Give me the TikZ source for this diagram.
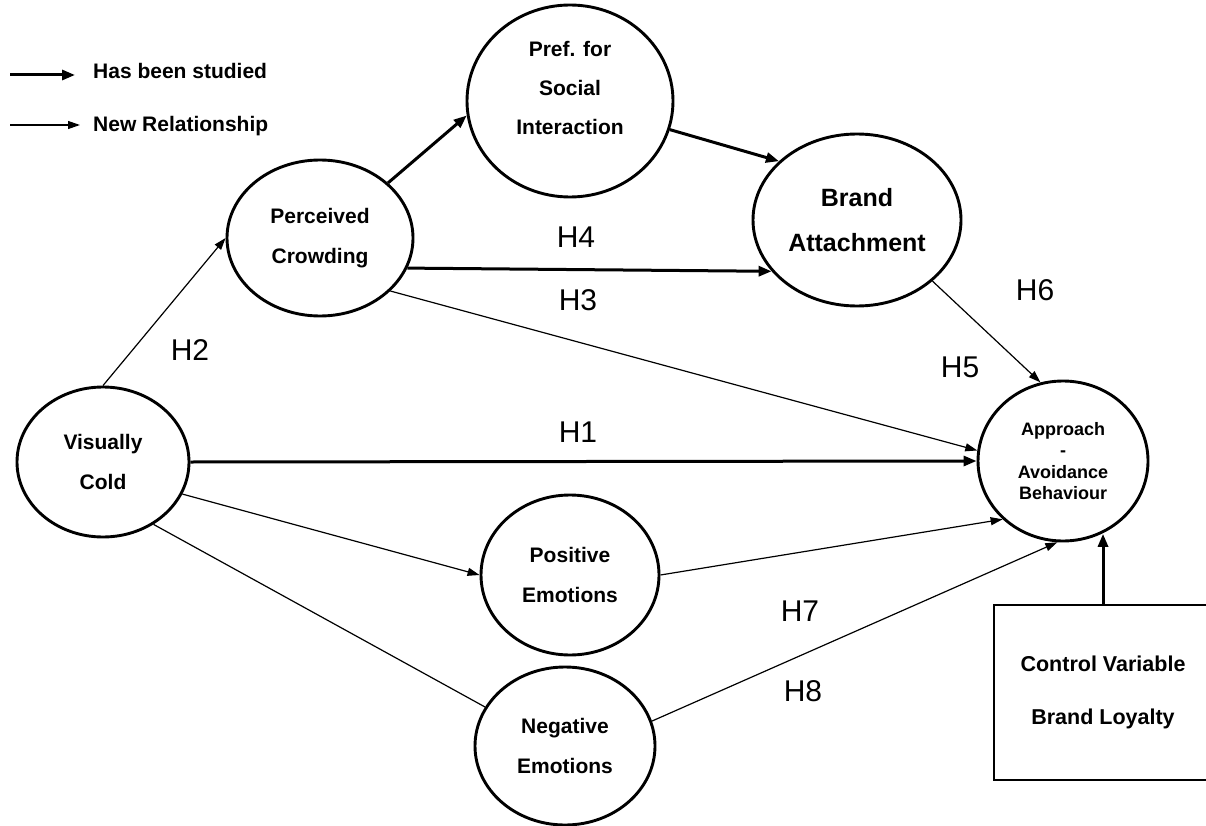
\documentclass[tikz,border=0pt]{standalone}
\usepackage{fontspec}
\setmainfont{Liberation Sans}
\usetikzlibrary{shapes.geometric,arrows.meta}

\begin{document}
\begin{tikzpicture}[x=1pt,y=-1pt,
  construct/.style={draw, line width=2.9pt, ellipse, inner sep=0pt, align=center,
    font=\bfseries\fontsize{21}{40}\selectfont},
  ctrlbox/.style={draw, line width=2.9pt, rectangle, inner sep=0pt, align=center,
    font=\bfseries\fontsize{21.5}{53}\selectfont},
  studied/.style={line width=3pt, -{Triangle[length=13pt,width=10pt]}},
  newrel/.style={line width=1.2pt, -{Triangle[length=12pt,width=8pt]}},
  plainrel/.style={line width=1.2pt},
  hyp/.style={inner sep=0pt, font=\fontsize{30}{30}\selectfont},
  legendtxt/.style={anchor=base west, inner sep=0pt, font=\bfseries\fontsize{21}{25}\selectfont}]

\useasboundingbox (0,0) rectangle (1206,826);

% legend
\coordinate (l1a) at (10,75);
\coordinate (l1b) at (75,75);
\coordinate (l2a) at (10,125);
\coordinate (l2b) at (80,125);
\draw[studied] (l1a) -- (l1b);
\draw[newrel] (l2a) -- (l2b);
\node[legendtxt] (l1) at (93,79) {Has been studied};
\node[legendtxt] (l2) at (93,132) {New Relationship};

% constructs
\node[construct, minimum width=172pt, minimum height=150pt] (vc) at (103,462) {Visually\\Cold};
\node[construct, minimum width=186pt, minimum height=156pt] (pc) at (320,238) {Perceived\\Crowding};
\node[construct, minimum width=206pt, minimum height=192pt] (pref) at (570,101) {};
\node[align=center, inner sep=0pt, font=\bfseries\fontsize{21}{39}\selectfont] (preftxt) at (570,88) {Pref. for\\Social\\Interaction};
\node[construct, minimum width=208pt, minimum height=172pt,
      font=\bfseries\fontsize{25}{45}\selectfont] (ba) at (857,220) {Brand\\Attachment};
\node[construct, minimum width=170pt, minimum height=160pt,
      font=\bfseries\fontsize{18}{21.5}\selectfont] (aa) at (1063,461) {Approach\\-\\Avoidance\\Behaviour};
\node[construct, minimum width=178pt, minimum height=160pt] (pos) at (570,575) {Positive\\Emotions};
\node[construct, minimum width=180pt, minimum height=158pt] (neg) at (565,746) {Negative\\Emotions};
\node[ctrlbox, minimum width=218pt, minimum height=175pt] (cv) at (1103,692.5) {Control Variable\\Brand Loyalty};

% relationships
\draw[newrel] (vc.north) -- (pc.west);
\draw[studied] (pc.39) -- (pref.188);
\draw[studied] (pref.-16) -- (ba.143);
\draw[studied] (pc.-19) -- (ba.211);
\draw[newrel] (pc.-37) -- (aa.173);
\draw[newrel] (ba.-39) -- (aa.106);
\draw[studied] (vc.east) -- (aa.west);
\draw[newrel] (vc.-22) -- (pos.west);
\draw[newrel] (pos.east) -- (aa.224);
\draw[plainrel] (vc.-51) -- (neg.154);
\draw[newrel] (neg.16) -- (aa.266);
\draw[studied] (cv.north) -- (cv.north |- aa.-62);

% hypothesis labels
\node[hyp] (h4) at (576,237) {H4};
\node[hyp] (h3) at (578,300) {H3};
\node[hyp] (h2) at (190,350) {H2};
\node[hyp] (h6) at (1035,290) {H6};
\node[hyp] (h5) at (960,367) {H5};
\node[hyp] (h1) at (578,432) {H1};
\node[hyp] (h7) at (800,611) {H7};
\node[hyp] (h8) at (803,691) {H8};
\end{tikzpicture}
\end{document}
